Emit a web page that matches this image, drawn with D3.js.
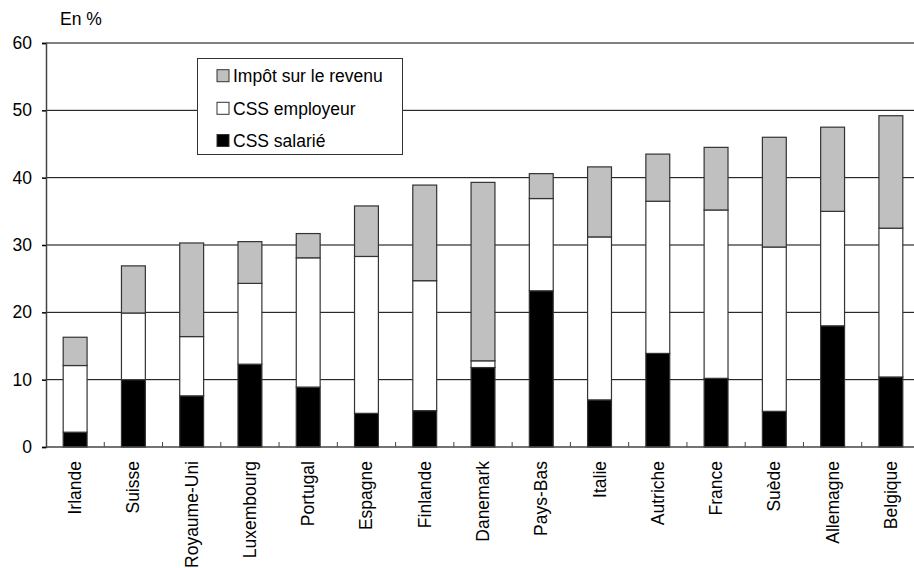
<!DOCTYPE html>
<html>
<head>
<meta charset="utf-8">
<script src="https://cdn.jsdelivr.net/npm/d3@7"></script>
<style>
  html, body { margin: 0; padding: 0; background: #fff; }
  svg { display: block; font-family: Arial, "Liberation Sans", sans-serif; }
</style>
</head>
<body>
<svg id="chart" width="914" height="568"></svg>
<script>
// Countries, ordered by total tax wedge
const countries = ["Irlande", "Suisse", "Royaume-Uni", "Luxembourg", "Portugal", "Espagne",
  "Finlande", "Danemark", "Pays-Bas", "Italie", "Autriche", "France", "Suède", "Allemagne", "Belgique"];

// Components, in % of labour cost
const cssSalarie   = [2.2, 10.0, 7.6, 12.3, 8.9, 5.0, 5.4, 11.8, 23.2, 7.0, 13.9, 10.2, 5.3, 18.0, 10.4];
const cssEmployeur = [9.9, 9.9, 8.8, 12.0, 19.2, 23.3, 19.3, 1.0, 13.7, 24.2, 22.6, 25.0, 24.4, 17.0, 22.1];
const impotRevenu  = [4.2, 7.0, 13.9, 6.2, 3.6, 7.5, 14.2, 26.5, 3.7, 10.4, 7.0, 9.3, 16.3, 12.5, 16.7];

const yTicks = [0, 10, 20, 30, 40, 50, 60];

const seriesNames = ["CSS salarié", "CSS employeur", "Impôt sur le revenu"];
const seriesColors = ["#000000", "#ffffff", "#c0c0c0"];
const legendOrder = [2, 1, 0];

const FONT = 17.5;

const rows = countries.map((c, i) => ({
  country: c,
  s0: cssSalarie[i],
  s1: cssEmployeur[i],
  s2: impotRevenu[i]
}));

const svg = d3.select("#chart");
const plotLeft = 46, plotRight = 920, plotTop = 43, plotBottom = 447;

const x = d3.scaleBand().domain(countries).range([plotLeft, plotRight]).paddingInner(0.59).paddingOuter(0.295);
const y = d3.scaleLinear().domain([0, 60]).range([plotBottom, plotTop]);

// horizontal gridlines
svg.append("g")
  .selectAll("line")
  .data(yTicks.filter(t => t > 0))
  .join("line")
  .attr("x1", plotLeft).attr("x2", plotRight)
  .attr("y1", d => y(d)).attr("y2", d => y(d))
  .attr("stroke", d => d === 60 ? "#808080" : "#000")
  .attr("stroke-width", d => d === 60 ? 2 : 1);

// stacked bars
const stack = d3.stack().keys(["s0", "s1", "s2"]);
const layers = stack(rows);

svg.append("g")
  .selectAll("g")
  .data(layers)
  .join("g")
  .attr("fill", (d, i) => seriesColors[i])
  .selectAll("rect")
  .data(d => d)
  .join("rect")
  .attr("x", d => x(d.data.country))
  .attr("width", x.bandwidth())
  .attr("y", d => y(d[1]))
  .attr("height", d => y(d[0]) - y(d[1]))
  .attr("stroke", "#333")
  .attr("stroke-width", 1.2);

// y axis
const yAxis = svg.append("g")
  .attr("transform", `translate(${plotLeft},0)`)
  .call(d3.axisLeft(y).tickValues(yTicks).tickSize(4).tickPadding(10));
yAxis.select(".domain").attr("stroke", "#444").attr("stroke-width", 1.5);
yAxis.selectAll(".tick line").attr("stroke", "#000").attr("stroke-width", 1.5);
yAxis.selectAll(".tick text").attr("font-size", FONT).attr("fill", "#000")
  .attr("font-family", "Arial, 'Liberation Sans', sans-serif");

// x axis with ticks at category boundaries
const boundaries = d3.range(countries.length + 1).map(i => plotLeft + i * x.step());
const xg = svg.append("g");
xg.append("line")
  .attr("x1", plotLeft).attr("x2", plotRight)
  .attr("y1", plotBottom).attr("y2", plotBottom)
  .attr("stroke", "#444").attr("stroke-width", 1.5);
xg.selectAll("line.tk")
  .data(boundaries.slice(1))
  .join("line")
  .attr("class", "tk")
  .attr("x1", d => d).attr("x2", d => d)
  .attr("y1", plotBottom - 5).attr("y2", plotBottom)
  .attr("stroke", "#444").attr("stroke-width", 1);

xg.selectAll("text")
  .data(countries)
  .join("text")
  .attr("transform", d => `translate(${x(d) + x.bandwidth() / 2 + 6},461) rotate(-90)`)
  .attr("text-anchor", "end")
  .attr("font-size", FONT)
  .attr("fill", "#000")
  .text(d => d);

// unit label
svg.append("text")
  .attr("x", 60).attr("y", 25)
  .attr("font-size", FONT)
  .text("En %");

// legend
const lg = svg.append("g");
lg.append("rect")
  .attr("x", 197.5).attr("y", 58.5)
  .attr("width", 205).attr("height", 96)
  .attr("fill", "#fff").attr("stroke", "#333").attr("stroke-width", 1);
const rowY = [75.7, 108.3, 140.5];
legendOrder.forEach((si, k) => {
  lg.append("rect")
    .attr("x", 217).attr("y", rowY[k] - 6)
    .attr("width", 12).attr("height", 12)
    .attr("fill", seriesColors[si])
    .attr("stroke", "#333").attr("stroke-width", 1);
  lg.append("text")
    .attr("x", 233).attr("y", rowY[k] + 6.2)
    .attr("font-size", FONT)
    .text(seriesNames[si]);
});
</script>
</body>
</html>
